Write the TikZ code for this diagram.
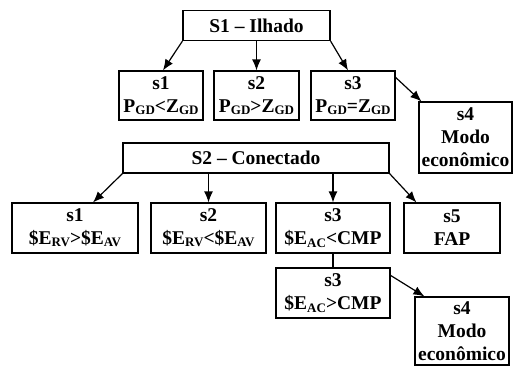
\documentclass[tikz,border=0pt]{standalone}
\usepackage{fontspec}
\setmainfont{Liberation Serif}
\usetikzlibrary{arrows.meta,calc}
\newcommand{\sbx}[1]{\raisebox{-2.2pt}{\fontsize{13}{13}\selectfont #1}}
\begin{document}
\begin{tikzpicture}[x=1pt,y=-1pt,
  box/.style={draw,line width=1.2pt,inner sep=0pt,align=center,
    font=\fontsize{19.5}{23}\selectfont\bfseries},
  arr/.style={line width=1.2pt,-{Latex[length=11pt,width=9pt]}},
  lnk/.style={line width=1.2pt}]
\useasboundingbox (0,0) rectangle (513,365);
\clip (0,0) rectangle (513,365);
\node[box,minimum width=147pt,minimum height=30pt] (S1) at (256.5,25.5) {S1 – Ilhado};
\node[box,minimum width=84pt,minimum height=49pt] (a1) at (161,95.5) {s1\\P\sbx{GD}<Z\sbx{GD}};
\node[box,minimum width=85pt,minimum height=49pt] (a2) at (256.5,95.5) {s2\\P\sbx{GD}>Z\sbx{GD}};
\node[box,minimum width=84pt,minimum height=49pt] (a3) at (353,95.5) {s3\\P\sbx{GD}=Z\sbx{GD}};
\node[box,minimum width=93pt,minimum height=71pt] (a4) at (465.5,137.5) {s4\\Modo\\econômico};
\node[box,minimum width=266pt,minimum height=30pt] (S2) at (256,158) {S2 – Conectado};
\node[box,minimum width=126pt,minimum height=50pt] (b1) at (75,228) {s1\\\$E\sbx{RV}>\$E\sbx{AV}};
\node[box,minimum width=115pt,minimum height=50pt] (b2) at (208.5,228) {s2\\\$E\sbx{RV}<\$E\sbx{AV}};
\node[box,minimum width=114pt,minimum height=50pt] (b3) at (333,228) {s3\\\$E\sbx{AC}<CMP};
\node[box,minimum width=96pt,minimum height=50pt] (b5) at (452,228) {s5\\FAP};
\node[box,minimum width=114pt,minimum height=50pt] (c3) at (333,293) {s3\\\$E\sbx{AC}>CMP};
\node[box,minimum width=94pt,minimum height=68pt] (d4) at (462,331) {s4\\Modo\\econômico};
\draw[arr] (S1.south west) -- ($(a1.north)+(2,0)$);
\draw[arr] (S1.south) -- (a2.north);
\draw[arr] (S1.south east) -- ($(a3.north)+(-5,0)$);
\draw[arr] ($(a3.north east)+(0,7)$) -- ($(a4.north west)+(3,0)$);
\draw[arr] (S2.south west) -- ($(b1.north)+(18,0)$);
\draw[arr] (S2.south -| b2.north) -- (b2.north);
\draw[arr] (S2.south -| b3.north) -- (b3.north);
\draw[arr] (S2.south east) -- ($(b5.north west)+(13,0)$);
\draw[lnk] (b3.south) -- (c3.north);
\draw[arr] ($(c3.north east)+(0,8)$) -- ($(d4.north west)+(10,0)$);
\end{tikzpicture}
\end{document}
